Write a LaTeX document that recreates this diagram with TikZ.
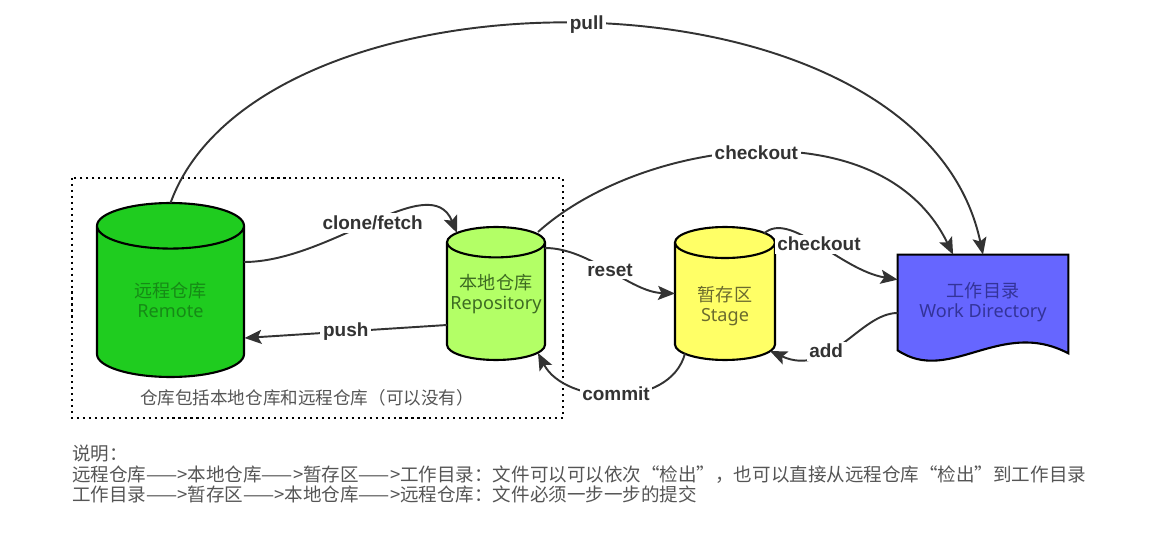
\documentclass[tikz,border=0pt]{standalone}
\usepackage{fontspec}
\setmainfont{Noto Sans}
\newfontfamily\cjk{Noto Sans CJK SC}
\newfontfamily\lblfont{Liberation Sans}
\usetikzlibrary{arrows.meta,backgrounds,calc,shapes.geometric}
\definecolor{ink}{HTML}{333333}
\definecolor{muted}{HTML}{555555}
\definecolor{remotefill}{HTML}{1FCC1F}
\definecolor{remotetext}{HTML}{168A16}
\definecolor{repofill}{HTML}{B3FF66}
\definecolor{repotext}{HTML}{3D6B22}
\definecolor{stagefill}{HTML}{FFFF66}
\definecolor{stagetext}{HTML}{6B6B2E}
\definecolor{workfill}{HTML}{6666FF}
\definecolor{worktext}{HTML}{333399}
\tikzset{
  flow/.style={
    -{Stealth[length=3.4mm,width=2.8mm,inset=0.7mm]},
    draw=ink,
    line width=1.1pt
  },
  barrel/.style={
    cylinder,
    shape border rotate=90,
    aspect=0.31,
    anchor=shape center,
    draw=black,
    line width=1.2pt,
    inner sep=0pt
  },
  tag/.style={
    align=center,
    inner sep=1pt,
    font=\fontsize{10.3}{11.5}\selectfont
  },
  cmd/.style={
    fill=white,
    inner sep=1.5pt,
    font=\lblfont\bfseries\fontsize{10.8}{12}\selectfont,
    text=ink
  },
  caption/.style={
    font=\cjk\fontsize{10}{12}\selectfont,
    text=muted
  }
}

\begin{document}
\begin{tikzpicture}[x=0.02cm,y=-0.02cm]
  \useasboundingbox (0,0) rectangle (1163,547);

  % repositories
  \node[barrel,fill=remotefill,minimum width=2.94cm,minimum height=3.48cm]
    (remote) at (170.5,290) {\hspace*{2.94cm}};
  \node[tag,text=remotetext] (remote-text) at (170.5,300)
    {{\cjk 远程仓库}\\Remote};
  \node[barrel,fill=repofill,minimum width=1.96cm,minimum height=2.66cm]
    (repo) at (496,293.5) {\hspace*{1.96cm}};
  \node[tag,text=repotext] (repo-text) at (496,294)
    {{\cjk 本地仓库}\\Repository};
  \node[barrel,fill=stagefill,minimum width=2cm,minimum height=2.66cm]
    (stage) at (725,293.5) {\hspace*{2cm}};
  \node[tag,text=stagetext] (stage-text) at (725,306)
    {{\cjk 暂存区}\\Stage};
  \node[tag,minimum width=3.4cm,minimum height=1.9cm,text=worktext]
    (work) at (983,302.5) {{\cjk 工作目录}\\Work Directory};
  \begin{scope}[on background layer]
    \draw[fill=workfill,line width=1.2pt]
      (work.north west) -- (work.north east) -- ($(work.south east)+(0,3)$)
      .. controls ($(work.south east)+(-68,-33)$) and ($(work.south west)+(52,35)$) ..
      (work.south west) -- cycle;
  \end{scope}

  % local box
  \draw[line width=1.1pt,dash pattern=on 1.2pt off 2.2pt] (72,178) rectangle (563,418);
  \node[caption] (boxnote) at (307,398) {仓库包括本地仓库和远程仓库（可以没有）};

  % commands
  \draw[flow] ($(remote.shape center)+(0,-87)$) .. controls (260,-44) and (920,-44) ..
    (work.north) node[cmd,pos=0.5] {pull};
  \draw[flow] ($(repo.shape center)+(42,-61.5)$) .. controls (640,140) and (880,105) ..
    (work.122) node[cmd,pos=0.5] {checkout};
  \draw[flow] ($(remote.shape center)+(73.5,-28)$) .. controls (330,262) and (430,168) ..
    ($(repo.shape center)+(-39,-60.5)$) node[cmd,pos=0.5] {clone/fetch};
  \draw[flow] ($(repo.shape center)+(-49,31.5)$) -- node[cmd] {push}
    ($(remote.shape center)+(74,48)$);
  \draw[flow] ($(repo.shape center)+(49,-45.5)$) .. controls (590,248) and (630,292) ..
    ($(stage.shape center)+(-50,0)$) node[cmd,pos=0.5] {reset};
  \draw[flow] ($(stage.shape center)+(-40,60)$) .. controls (670,410) and (565,405) ..
    ($(repo.shape center)+(42,59.5)$) node[cmd,pos=0.5] {commit};
  \draw[flow] ($(stage.shape center)+(39,-60)$) .. controls (790,210) and (840,270) ..
    (work.165) node[cmd,pos=0.5] {checkout};
  \draw[flow] (work.187) .. controls (860,313) and (830,378) ..
    ($(stage.shape center)+(45,57.5)$) node[cmd,pos=0.63] {add};

  % notes
  \node[caption,anchor=north west,align=left,inner sep=0pt,
    font=\cjk\fontsize{10.55}{11.6}\selectfont] (notes) at (72,445)
    {说明：\\
     远程仓库——>本地仓库——>暂存区——>工作目录：文件可以可以依次“检出”，也可以直接从远程仓库“检出”到工作目录\\
     工作目录——>暂存区——>本地仓库——>远程仓库：文件必须一步一步的提交};
\end{tikzpicture}
\end{document}
